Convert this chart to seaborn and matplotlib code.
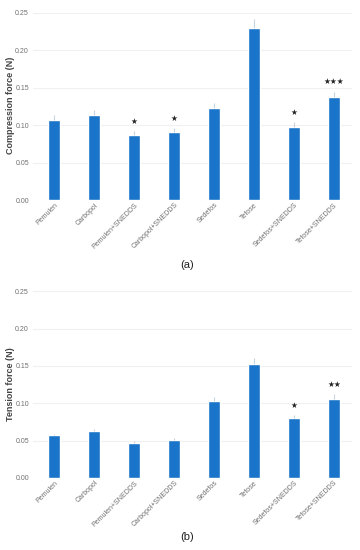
import numpy as np
import pandas as pd
import matplotlib
matplotlib.use("Agg")
import matplotlib.pyplot as plt
import seaborn as sns

# --- data ---
formulations = ["Pemulen", "Carbopol", "Pemulen+SNEDDS", "Carbopol+SNEDDS",
                "Sedefos", "Tefose", "Sedefos+SNEDDS", "Tefose+SNEDDS"]
compression = [0.107, 0.113, 0.087, 0.091, 0.123, 0.230, 0.098, 0.137]
compression_err = [0.006, 0.007, 0.005, 0.005, 0.006, 0.012, 0.006, 0.007]
compression_sig = ["", "", "★", "★", "", "", "★", "★★★"]
tension = [0.057, 0.063, 0.047, 0.051, 0.103, 0.153, 0.080, 0.106]
tension_err = [0.002, 0.002, 0.002, 0.002, 0.005, 0.008, 0.004, 0.006]
tension_sig = ["", "", "", "", "", "", "★", "★★"]
yticks = [0.00, 0.05, 0.10, 0.15, 0.20, 0.25]

sns.set_style("whitegrid", {"grid.color": "#f0f0f0", "axes.edgecolor": "white"})
plt.rcParams["font.family"] = ["Liberation Sans", "DejaVu Sans"]

BAR = "#1a74c9"
TXT = "#707070"

fig = plt.figure(figsize=(3.6, 5.5), dpi=100)
ax_a = fig.add_axes([0.092, 0.636, 0.886, 0.344])
ax_b = fig.add_axes([0.092, 0.131, 0.886, 0.342])


def draw_panel(ax, vals, errs, sig, ylabel, caption):
    df = pd.DataFrame({"formulation": formulations, "force": vals})
    sns.barplot(data=df, x="formulation", y="force", color=BAR, width=0.3,
                saturation=1, errorbar=None, ax=ax)
    x = np.arange(len(vals))
    ax.errorbar(x, vals, yerr=[np.zeros(len(errs)), errs], fmt="none",
                ecolor="#c8d4e0", elinewidth=0.8, capsize=0)
    for xi, v, e, s in zip(x, vals, errs, sig):
        if s:
            ax.text(xi, v + e + 0.0075, s, ha="center", va="bottom",
                    fontsize=5.5, color="#222222", family="DejaVu Sans")
    ax.set_ylim(0, 0.252)
    ax.set_xlim(-0.53, 7.45)
    ax.set_yticks(yticks)
    ax.set_yticklabels([f"{t:.2f}" for t in yticks])
    ax.tick_params(axis="y", labelsize=5, colors=TXT, length=0, pad=3)
    ax.tick_params(axis="x", labelsize=5, colors=TXT, length=0, pad=1)
    plt.setp(ax.get_xticklabels(), rotation=45, ha="right", rotation_mode="anchor")
    ax.grid(axis="x", visible=False)
    ax.set_xlabel("")
    ax.set_ylabel(ylabel, fontsize=6.5, fontweight="bold", color="#444444", labelpad=0.5)
    for sp in ax.spines.values():
        sp.set_visible(False)
    ax.text(0.52, caption[1], caption[0], transform=fig.transFigure,
            ha="center", va="center", fontsize=8, color="#222222")


draw_panel(ax_a, compression, compression_err, compression_sig,
           "Compression force (N)", ("(a)", 1 - 265 / 550))
draw_panel(ax_b, tension, tension_err, tension_sig,
           "Tension force (N)", ("(b)", 1 - 537 / 550))

fig.savefig("out.png", dpi=100)
